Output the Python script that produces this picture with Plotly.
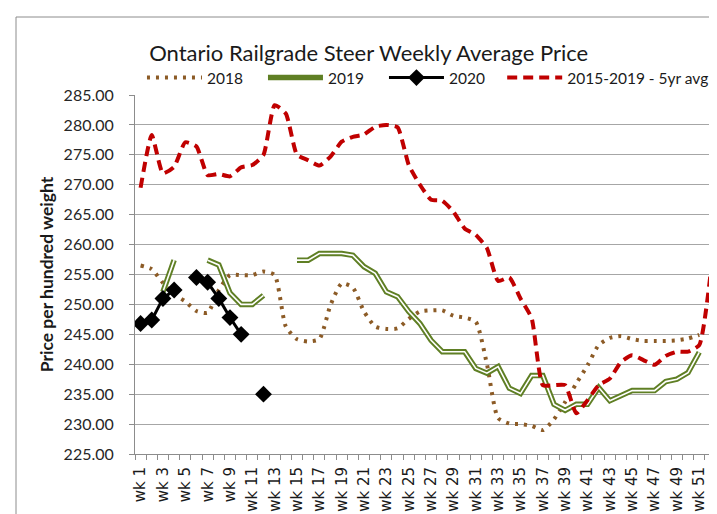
import plotly.graph_objects as go

weeks = list(range(1, 53))
tick_weeks = [w for w in weeks if w % 2 == 1]
tick_labels = [f"wk {w}" for w in tick_weeks]

y2018 = [256.5, 255.9, 253.6, 251.7, 250.5, 248.9, 248.6, 252.4, 254.9, 254.9,
         254.9, 255.5, 254.9, 246.3, 244.2, 243.8, 244.2, 249.9, 253.5, 252.8,
         248.8, 246.3, 245.9, 246.0, 247.6, 248.8, 249.0, 249.0, 248.1, 247.8,
         247.1, 240.0, 231.0, 230.1, 230.0, 229.7, 229.0, 230.8, 233.7, 236.8,
         239.8, 243.2, 244.4, 244.7, 244.2, 243.9, 243.9, 243.9, 244.0, 244.3,
         244.9, None]

y2019 = [None, None, 252.1, 257.4, None, None, 257.4, 256.6, 251.9, 250.0,
         250.0, 251.5, None, None, 257.4, 257.4, 258.5, 258.5, 258.5, 258.2,
         256.3, 255.2, 252.1, 251.3, 248.8, 246.8, 244.0, 242.1, 242.1, 242.1,
         239.3, 238.5, 239.6, 236.0, 235.1, 238.1, 238.1, 233.3, 232.3, 233.3,
         233.3, 236.1, 233.9, 234.7, 235.6, 235.6, 235.6, 237.1, 237.5, 238.6,
         242.0, None]

y2020 = [246.8, 247.4, 251.0, 252.4, None, 254.5, 253.7, 251.0, 247.8, 245.0,
         None, 235.0] + [None] * 40

y5yr = [269.5, 278.3, 271.9, 273.0, 277.1, 276.4, 271.6, 271.8, 271.4, 272.9,
        273.3, 275.0, 283.3, 281.9, 275.0, 274.1, 273.2, 274.7, 277.2, 278.0,
        278.4, 279.7, 280.0, 279.6, 273.3, 270.0, 267.5, 267.3, 265.5, 262.7,
        261.6, 259.4, 253.9, 254.5, 251.0, 247.7, 236.5, 236.5, 236.5, 231.8,
        234.0, 236.5, 237.6, 240.4, 241.5, 240.7, 239.9, 241.4, 242.1, 242.1,
        243.2, 254.9]

FONT = "Lato"
BROWN = "#8c5b26"
GREEN = "#5f7f24"
RED = "#c00000"

fig = go.Figure()

fig.add_trace(go.Scatter(
    x=weeks, y=y2018, name="2018", mode="lines",
    line=dict(color=BROWN, width=4, dash="3px,6px", shape="spline", smoothing=0.6),
    connectgaps=False,
))
fig.add_trace(go.Scatter(
    x=weeks, y=y2019, name="2019", mode="lines",
    line=dict(color=GREEN, width=5.5),
    connectgaps=False,
))
fig.add_trace(go.Scatter(
    x=weeks, y=y2019, name="2019 core", mode="lines", showlegend=False,
    line=dict(color="white", width=1.6),
    connectgaps=False, hoverinfo="skip",
))
fig.add_trace(go.Scatter(
    x=weeks, y=y2020, name="2020", mode="lines+markers",
    line=dict(color="black", width=3),
    marker=dict(symbol="diamond", size=13, color="black"),
    connectgaps=False,
))
fig.add_trace(go.Scatter(
    x=weeks, y=y5yr, name="2015-2019 - 5yr avg", mode="lines", legend="legend2",
    line=dict(color=RED, width=4, dash="10px,6px", shape="spline", smoothing=0.5),
    connectgaps=False,
))

legend_font = dict(family=FONT, size=15.5, color="#1a1a1a")

fig.update_layout(
    width=717, height=514,
    margin=dict(l=127, r=9, t=87, b=68),
    paper_bgcolor="white", plot_bgcolor="white",
    font=dict(family=FONT, color="#262626"),
    title=dict(
        text="Ontario Railgrade Steer Weekly Average Price",
        x=0.503, xanchor="center", xref="container",
        y=1 - 45 / 514, yanchor="middle", yref="container",
        font=dict(family=FONT, size=22, color="#1a1a1a"),
    ),
    legend=dict(
        orientation="h", x=0.012, xanchor="left", y=1.0, yanchor="bottom",
        font=legend_font, bgcolor="rgba(0,0,0,0)", itemwidth=55,
        entrywidth=51, entrywidthmode="pixels",
    ),
    legend2=dict(
        orientation="h", x=0.632, xanchor="left", y=1.0, yanchor="bottom",
        font=legend_font, bgcolor="rgba(0,0,0,0)", itemwidth=55,
    ),
    showlegend=True,
)

fig.update_xaxes(
    range=[0.5, 52.5], tickmode="array", tickvals=tick_weeks, ticktext=tick_labels,
    tickangle=-90, tickfont=dict(family="DejaVu Sans", size=15, color="#1a1a1a"),
    ticks="", showgrid=False, showline=True, linecolor="#8c8c8c", linewidth=1,
    zeroline=False, ticklabelstandoff=6,
    minor=dict(ticks="outside", tick0=0.5, dtick=1, ticklen=5, tickcolor="#8c8c8c",
               showgrid=False),
)
fig.update_yaxes(
    range=[225, 285], dtick=5, tick0=225, tickformat=".2f",
    showgrid=True, gridcolor="#a6a6a6", gridwidth=1,
    showline=True, linecolor="#8c8c8c", linewidth=1, zeroline=False,
    ticks="outside", ticklen=5, tickcolor="#8c8c8c",
    tickfont=dict(family=FONT, size=16, color="#262626"),
    ticklabelstandoff=12,
    title=dict(text="<b>Price per hundred weight</b>", standoff=5,
               font=dict(family=FONT, size=17.5, color="#1a1a1a")),
)

# chart-area border (cropped on right and bottom in the reference)
fig.add_shape(type="rect", xref="paper", yref="paper",
              x0=(8 - 127) / 581, x1=1.1, y0=-0.3, y1=(446 - 9) / 359,
              line=dict(color="#8c8c8c", width=1), fillcolor="rgba(0,0,0,0)",
              layer="below")

fig.write_html("out.html")
